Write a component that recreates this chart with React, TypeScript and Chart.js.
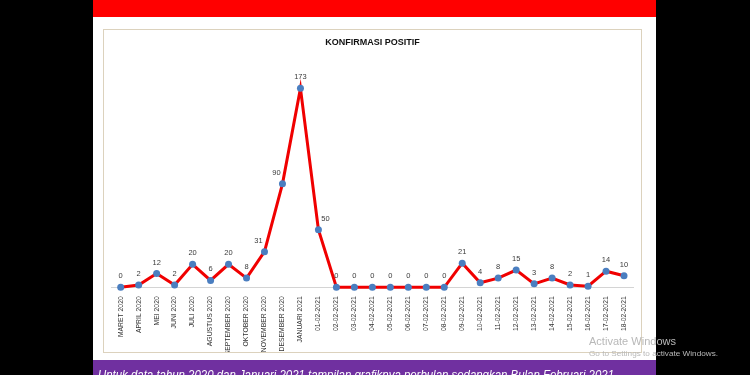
import React, { useEffect, useRef } from "react";
import { Chart, registerables } from "chart.js";

Chart.register(...registerables);

const categories: string[] = [
  "MARET 2020", "APRIL 2020", "MEI 2020", "JUNI 2020", "JULI 2020", "AGUSTUS 2020",
  "SEPTEMBER 2020", "OKTOBER 2020", "NOVEMBER 2020", "DESEMBER 2020", "JANUARI 2021",
  "01-02-2021", "02-02-2021", "03-02-2021", "04-02-2021", "05-02-2021", "06-02-2021",
  "07-02-2021", "08-02-2021", "09-02-2021", "10-02-2021", "11-02-2021", "12-02-2021",
  "13-02-2021", "14-02-2021", "15-02-2021", "16-02-2021", "17-02-2021", "18-02-2021",
];

const positiveCases: number[] = [
  0, 2, 12, 2, 20, 6, 20, 8, 31, 90, 173, 50,
  0, 0, 0, 0, 0, 0, 0, 21, 4, 8, 15, 3, 8, 2, 1, 14, 10,
];

const chartTitle = "KONFIRMASI POSITIF";
const footerText =
  "Untuk data tahun 2020 dan Januari 2021 tampilan grafiknya perbulan sedangkan Bulan Februari 2021";

const FONT = "'Liberation Sans', Arial, sans-serif";

const valueLabels = {
  id: "valueLabels",
  afterDatasetsDraw(chart: any) {
    const ctx = chart.ctx;
    const meta = chart.getDatasetMeta(0);
    const data = chart.data.datasets[0].data as number[];
    ctx.save();
    ctx.font = `7.5px ${FONT}`;
    ctx.fillStyle = "#3a3a3a";
    ctx.textAlign = "center";
    ctx.textBaseline = "middle";
    meta.data.forEach((pt: any, i: number) => {
      let dx = 0;
      const v = data[i];
      const prev = i > 0 ? data[i - 1] : v;
      const next = i < data.length - 1 ? data[i + 1] : v;
      // shift label sideways where the line climbs steeply through the point
      if (next - v > 40 && v - prev > 20) dx = -6;
      if (prev - v > 40 && v - next > 40) dx = 7;
      ctx.fillText(String(v), pt.x + dx, pt.y - 11);
    });
    ctx.restore();
  },
};

function ChartBox() {
  const ref = useRef<HTMLCanvasElement | null>(null);
  useEffect(() => {
    if (!ref.current) return;
    const chart = new Chart(ref.current, {
      type: "line",
      data: {
        labels: categories,
        datasets: [
          {
            data: positiveCases,
            borderColor: "#f00000",
            borderWidth: 3,
            pointRadius: 3.5,
            pointBackgroundColor: "#4a7ec0",
            pointBorderColor: "#4a7ec0",
            pointBorderWidth: 0,
            tension: 0,
            clip: false as any,
          },
        ],
      },
      options: {
        animation: false,
        responsive: false,
        maintainAspectRatio: false,
        layout: { padding: { left: 7.7, right: 8, top: 27.3, bottom: 0 } },
        plugins: {
          legend: { display: false },
          title: { display: false },
          tooltip: { enabled: false },
        },
        scales: {
          x: {
            type: "category",
            offset: true,
            grid: { display: false },
            border: { display: true, color: "#d4d4d4", width: 1 },
            ticks: {
              autoSkip: false,
              minRotation: 90,
              maxRotation: 90,
              padding: 1,
              color: "#333333",
              font: { family: FONT, size: 6.8 },
            },
            afterFit: (scale: any) => {
              scale.height = 64.7;
            },
          },
          y: {
            display: false,
            min: 0,
            max: 200,
          },
        },
      },
      plugins: [valueLabels],
    });
    return () => chart.destroy();
  }, []);
  return <canvas ref={ref} width={537} height={322} style={{ display: "block", width: 537, height: 322 }} />;
}

export default function App() {
  return (
    <div style={{ position: "fixed", left: 0, top: 0, width: 750, height: 375, background: "#000", overflow: "hidden" }}>
      {/* slide */}
      <div style={{ position: "absolute", left: 93, top: 0, width: 563, height: 375, background: "#ffffff" }} />
      <div style={{ position: "absolute", left: 93, top: 0, width: 563, height: 17, background: "#ff0000" }} />
      {/* chart box */}
      <div
        style={{
          position: "absolute",
          left: 103,
          top: 29,
          width: 537,
          height: 322,
          border: "1px solid #dcd2bd",
          background: "#ffffff",
        }}
      >
        <ChartBox />
        <div
          style={{
            position: "absolute",
            left: 0,
            width: 537,
            top: 7,
            textAlign: "center",
            font: `bold 9px ${FONT}`,
            color: "#111",
          }}
        >
          {chartTitle}
        </div>
      </div>
      {/* footer band */}
      <div style={{ position: "absolute", left: 93, top: 360, width: 563, height: 15, background: "#7030a0" }} />
      <svg style={{ position: "absolute", left: 0, top: 0 }} width={750} height={375}>
        <text
          x={98}
          y={379}
          textLength={516}
          lengthAdjust="spacingAndGlyphs"
          fill="#ffffff"
          fontStyle="italic"
          fontFamily={FONT}
          fontSize={13}
        >
          {footerText}
        </text>
        <text x={589} y={345} fill="#b8b8b8" fontFamily={FONT} fontSize={11.5} textLength={87} lengthAdjust="spacingAndGlyphs">
          Activate Windows
        </text>
        <text x={589} y={356} fill="#b8b8b8" fontFamily={FONT} fontSize={7.5} textLength={129} lengthAdjust="spacingAndGlyphs">
          Go to Settings to activate Windows.
        </text>
      </svg>
    </div>
  );
}
